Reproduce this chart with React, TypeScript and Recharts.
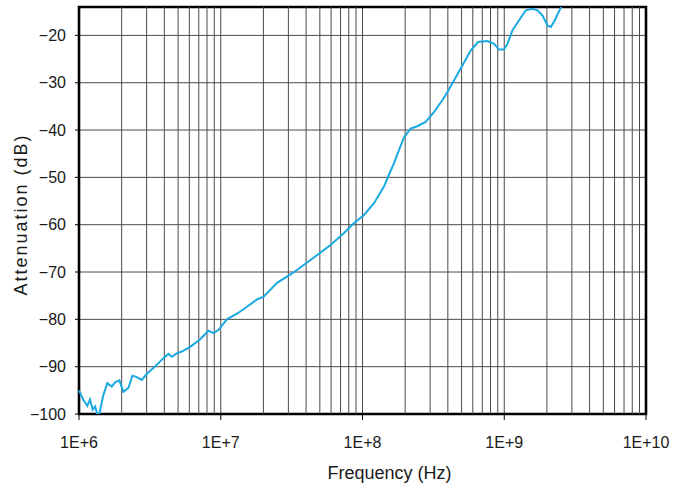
import { LineChart, Line, XAxis, YAxis, CartesianGrid, ReferenceLine, ReferenceArea } from 'recharts'

// frequency in Hz, attenuation in dB
const freqHz = [
  1.0e6, 1.072e6, 1.145e6, 1.196e6, 1.25e6, 1.298e6, 1.347e6, 1.392e6, 1.485e6, 1.585e6,
  1.703e6, 1.797e6, 1.926e6, 2.056e6, 2.23e6, 2.381e6, 2.557e6, 2.774e6, 3.009e6, 3.351e6,
  3.942e6, 4.277e6, 4.521e6, 4.903e6, 5.318e6, 6.088e6, 7.164e6, 8.2e6, 8.895e6, 9.649e6,
  1.106e7, 1.336e7, 1.802e7, 2.007e7, 2.496e7, 3.186e7, 4.066e7, 5.049e7, 5.94e7, 7.376e7,
  8.681e7, 1.021e8, 1.202e8, 1.414e8, 1.534e8, 1.664e8, 1.805e8, 1.958e8, 2.184e8, 2.435e8,
  2.788e8, 3.191e8, 3.659e8, 3.968e8, 4.927e8, 5.798e8, 6.529e8, 7.609e8, 8.473e8, 9.19e8,
  9.968e8, 1.053e9, 1.143e9, 1.273e9, 1.419e9, 1.582e9, 1.717e9, 1.862e9, 2.02e9, 2.132e9,
  2.275e9, 2.48e9, 2.62e9,
]
const attenuationDb = [
  -95.0, -97.0, -98.3, -96.9, -99.1, -98.4, -100, -100, -96.0, -93.5,
  -94.2, -93.3, -92.9, -95.3, -94.5, -91.9, -92.2, -92.8, -91.5, -90.3,
  -88.2, -87.3, -87.9, -87.2, -86.8, -85.8, -84.2, -82.4, -82.9, -82.2,
  -80.0, -78.6, -75.8, -75.2, -72.3, -70.3, -68.0, -65.9, -64.3, -61.8,
  -59.7, -58.0, -55.5, -52.0, -49.5, -47.1, -44.3, -41.6, -39.7, -39.2,
  -38.3, -36.2, -33.7, -32.0, -27.0, -23.2, -21.4, -21.2, -21.8, -23.0,
  -23.0, -21.8, -18.9, -16.8, -14.7, -14.4, -14.7, -15.8, -17.9, -18.2,
  -16.8, -14.4, -13.0,
]

const decadeTicks = [1e6, 1e7, 1e8, 1e9, 1e10]
const dbTicks = [-100, -90, -80, -70, -60, -50, -40, -30, -20]
const minorMultipliers = [2, 3, 4, 5, 6, 7, 8, 9]

const minorFreqs = decadeTicks.slice(0, -1).flatMap(d => minorMultipliers.map(m => d * m))

const chartData = freqHz.map((f, i) => ({ f, db: attenuationDb[i] }))

const font = '"Liberation Sans", Arial, Helvetica, sans-serif'
const gridColor = '#4a4a4a'

const formatFreq = (v: number) => `1E+${Math.round(Math.log10(v))}`
const formatDb = (v: number) => (v < 0 ? `\u2212${Math.abs(v)}` : `${v}`)

const XTitle = ({ viewBox }: any) => (
  <text x={viewBox.x + viewBox.width / 2 + 27} y={viewBox.y + 65} textAnchor="middle"
    fontSize={18} fontFamily={font} fill="#1a1a1a">
    Frequency (Hz)
  </text>
)

const YTitle = ({ viewBox }: any) => {
  const x = viewBox.x + 27
  const y = viewBox.y + viewBox.height / 2 + 4
  return (
    <text x={x} y={y} transform={`rotate(-90 ${x} ${y})`} textAnchor="middle"
      fontSize={18} letterSpacing={2} fontFamily={font} fill="#1a1a1a">
      Attenuation (dB)
    </text>
  )
}

export default function App() {
  return (
    <div style={{ position: 'absolute', left: 0, top: 0, width: 676, height: 487, background: '#fff' }}>
      <LineChart width={676} height={487} data={chartData}
        margin={{ top: 7, right: 30, bottom: 0, left: 0 }}>
        <CartesianGrid stroke={gridColor} strokeWidth={1} />
        {minorFreqs.map(f => (
          <ReferenceLine key={f} x={f} stroke={gridColor} strokeWidth={1} />
        ))}
        <XAxis
          dataKey="f"
          type="number"
          scale="log"
          domain={[1e6, 1e10]}
          ticks={decadeTicks}
          tickFormatter={formatFreq}
          height={73}
          axisLine={false}
          tickSize={6}
          tickMargin={17}
          tickLine={{ stroke: '#000', strokeWidth: 1 }}
          tick={{ fill: '#1a1a1a', fontSize: 16, fontFamily: font }}
          label={{ content: <XTitle /> }}
        />
        <YAxis
          type="number"
          domain={[-100, -14]}
          allowDataOverflow
          ticks={dbTicks}
          tickFormatter={formatDb}
          width={79}
          axisLine={false}
          tickSize={4}
          tickMargin={9}
          tickLine={{ stroke: '#000', strokeWidth: 1 }}
          tick={{ fill: '#1a1a1a', fontSize: 16, fontFamily: font }}
          label={{ content: <YTitle /> }}
        />
        <ReferenceArea x1={1e6} x2={1e10} y1={-100} y2={-14} fill="none" stroke="#000" strokeWidth={2.6} />
        <Line
          dataKey="db"
          stroke="#1aa9e0"
          strokeWidth={2}
          dot={false}
          type="linear"
          isAnimationActive={false}
        />
      </LineChart>
    </div>
  )
}
